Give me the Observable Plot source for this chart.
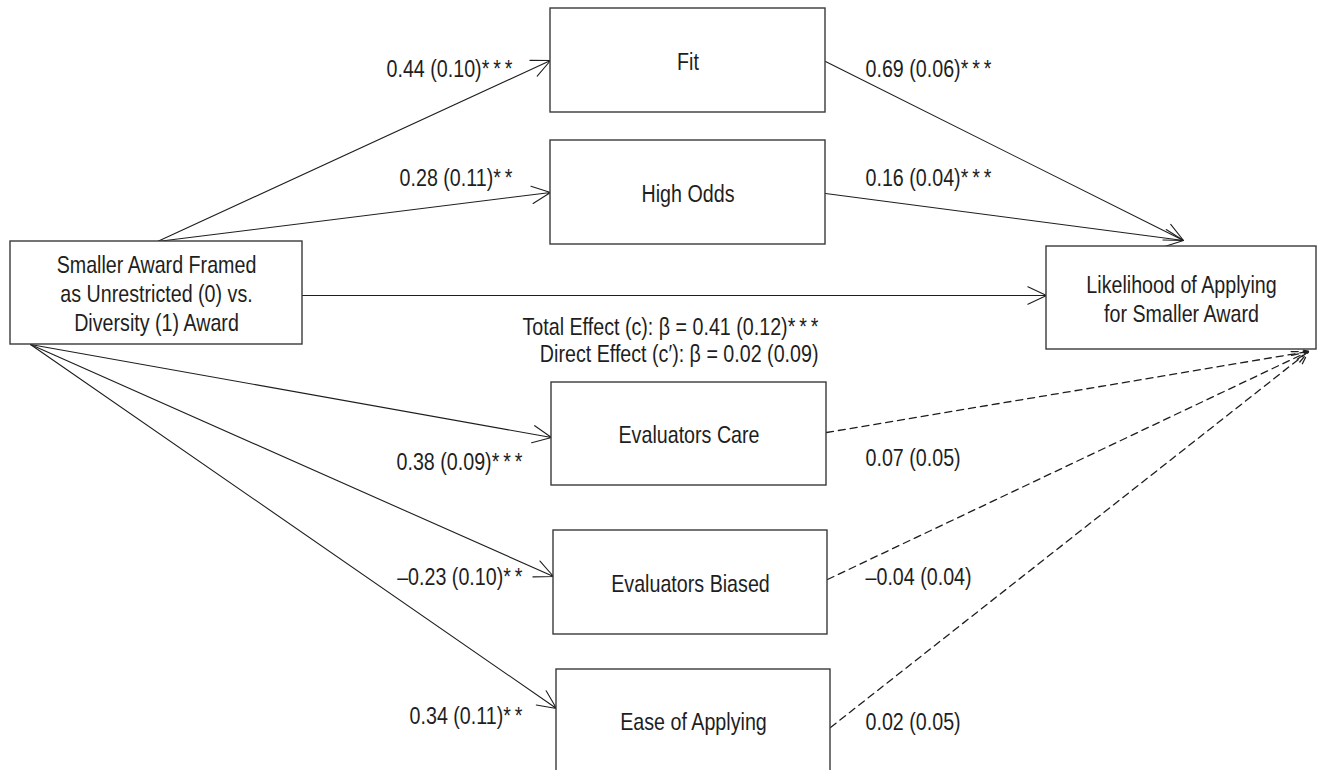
<!DOCTYPE html>
<html><head><meta charset="utf-8">
<script src="https://cdn.jsdelivr.net/npm/d3@7"></script>
<script src="https://cdn.jsdelivr.net/npm/@observablehq/plot@0.6"></script>
<style>html,body{margin:0;padding:0;background:#fff;overflow:hidden;}</style>
</head><body><div id="chart"></div>
<script>
// ---- data ----
const nodeKeys  = ["X", "Fit", "Odds", "Y", "Care", "Biased", "Ease"];
const nodeNames = [
  "Smaller Award Framed\nas Unrestricted (0) vs.\nDiversity (1) Award",
  "Fit",
  "High Odds",
  "Likelihood of Applying\nfor Smaller Award",
  "Evaluators Care",
  "Evaluators Biased",
  "Ease of Applying"
];
const pathFrom  = ["X", "X", "Fit", "Odds", "X", "X", "X", "Care", "Biased", "Ease", "X"];
const pathTo    = ["Fit", "Odds", "Y", "Y", "Care", "Biased", "Ease", "Y", "Y", "Y", "Y"];
const pathEst   = [0.44, 0.28, 0.69, 0.16, 0.38, -0.23, 0.34, 0.07, -0.04, 0.02, 0.02];
const pathSE    = [0.10, 0.11, 0.06, 0.04, 0.09, 0.10, 0.11, 0.05, 0.04, 0.05, 0.09];
const pathStars = ["***", "**", "***", "***", "***", "**", "**", "", "", "", ""];
const totalEst = 0.41, totalSE = 0.12, totalStars = "***";

// ---- layout (pixel coordinates of the diagram) ----
const boxX1 = [10, 550, 550, 1046, 551, 553, 556];
const boxX2 = [302, 825, 825, 1316, 826, 827, 830];
const boxY1 = [241, 8, 140, 246, 382, 530, 669];
const boxY2 = [344, 112, 244, 349, 485, 634, 775];
const boxTextY = [292, 60, 192, 297.5, 433, 582, 720];

const arrowX1 = [157, 157, 825, 825, 30, 30, 30, 826, 827, 830, 302];
const arrowY1 = [241, 241, 61, 193, 344, 344, 344, 432, 579, 727, 295];
const arrowX2 = [550, 550, 1183, 1183, 551, 553, 556, 1308, 1308, 1308, 1046];
const arrowY2 = [60, 192, 240, 240, 437, 576, 708, 351, 351, 351, 295];
const labelX  = [512, 512, 865, 865, 522, 522, 522, 865, 865, 865, null];
const labelY  = [69, 178, 69, 178, 462, 577, 716, 458, 577, 722, null];

const fmt = d3.format(".2f");
const fmtSigned = v => (v < 0 ? "\u2013" + fmt(-v) : fmt(v));
const spaced = s => s.split("").join("\u2009");

const nodes = nodeKeys.map((k, i) => ({
  key: k, name: nodeNames[i],
  x1: boxX1[i], x2: boxX2[i], y1: boxY1[i], y2: boxY2[i],
  cx: (boxX1[i] + boxX2[i]) / 2, ty: boxTextY[i]
}));
const paths = pathFrom.map((f, i) => ({
  from: f, to: pathTo[i],
  x1: arrowX1[i], y1: arrowY1[i], x2: arrowX2[i], y2: arrowY2[i],
  label: `${fmtSigned(pathEst[i])} (${fmt(pathSE[i])})${spaced(pathStars[i])}`,
  lx: labelX[i], ly: labelY[i],
  dashed: pathStars[i] === "" && f !== "X",
  side: f === "X" ? "left" : "right",
  direct: f === "X" && pathTo[i] === "Y"
}));
const effectText = [
  {t: `Total Effect (c): \u03B2 = ${fmt(totalEst)} (${fmt(totalSE)})${spaced(totalStars)}`, x: 818, y: 327},
  {t: `Direct Effect (c\u2032): \u03B2 = ${fmt(pathEst[10])} (${fmt(pathSE[10])})`, x: 818, y: 354}
];

const font = "'Liberation Sans', Arial, sans-serif";
const ink = "#1e1e1e";
const fs = 24;

const chart = Plot.plot({
  width: 1319, height: 770, margin: 0,
  x: {domain: [0, 1319], axis: null},
  y: {domain: [770, 0], axis: null},
  style: {fontFamily: font, background: "#fff", color: ink},
  marks: [
    Plot.arrow(paths.filter(d => !d.dashed), {
      x1: "x1", y1: "y1", x2: "x2", y2: "y2",
      stroke: ink, strokeWidth: 1.1, headLength: 28, headAngle: 50
    }),
    Plot.arrow(paths.filter(d => d.dashed), {
      x1: "x1", y1: "y1", x2: "x2", y2: "y2",
      stroke: ink, strokeWidth: 1.3, strokeDasharray: "7,5", headLength: 20, headAngle: 50
    }),
    Plot.rect(nodes, {
      x1: "x1", x2: "x2", y1: "y1", y2: "y2",
      fill: "white", stroke: "#3a3a3a", strokeWidth: 1.4
    }),
    Plot.text(nodes, {
      x: "cx", y: "ty", text: "name",
      fontSize: fs, fill: ink, lineHeight: 1.2, lineAnchor: "middle"
    }),
    Plot.text(paths.filter(d => !d.direct && d.side === "left"), {
      x: "lx", y: "ly", text: "label", textAnchor: "end",
      fontSize: fs, fill: ink
    }),
    Plot.text(paths.filter(d => !d.direct && d.side === "right"), {
      x: "lx", y: "ly", text: "label", textAnchor: "start",
      fontSize: fs, fill: ink
    }),
    Plot.text(effectText, {
      x: "x", y: "y", text: "t", textAnchor: "end",
      fontSize: fs, fill: ink
    })
  ]
});
// condense the text horizontally (the reference uses a narrow sans face)
d3.select(chart).selectAll("text").each(function () {
  const t = this.getAttribute("transform") || "";
  this.setAttribute("transform", t + " scale(0.82,1)");
});
document.getElementById("chart").appendChild(chart);
</script>
</body></html>
